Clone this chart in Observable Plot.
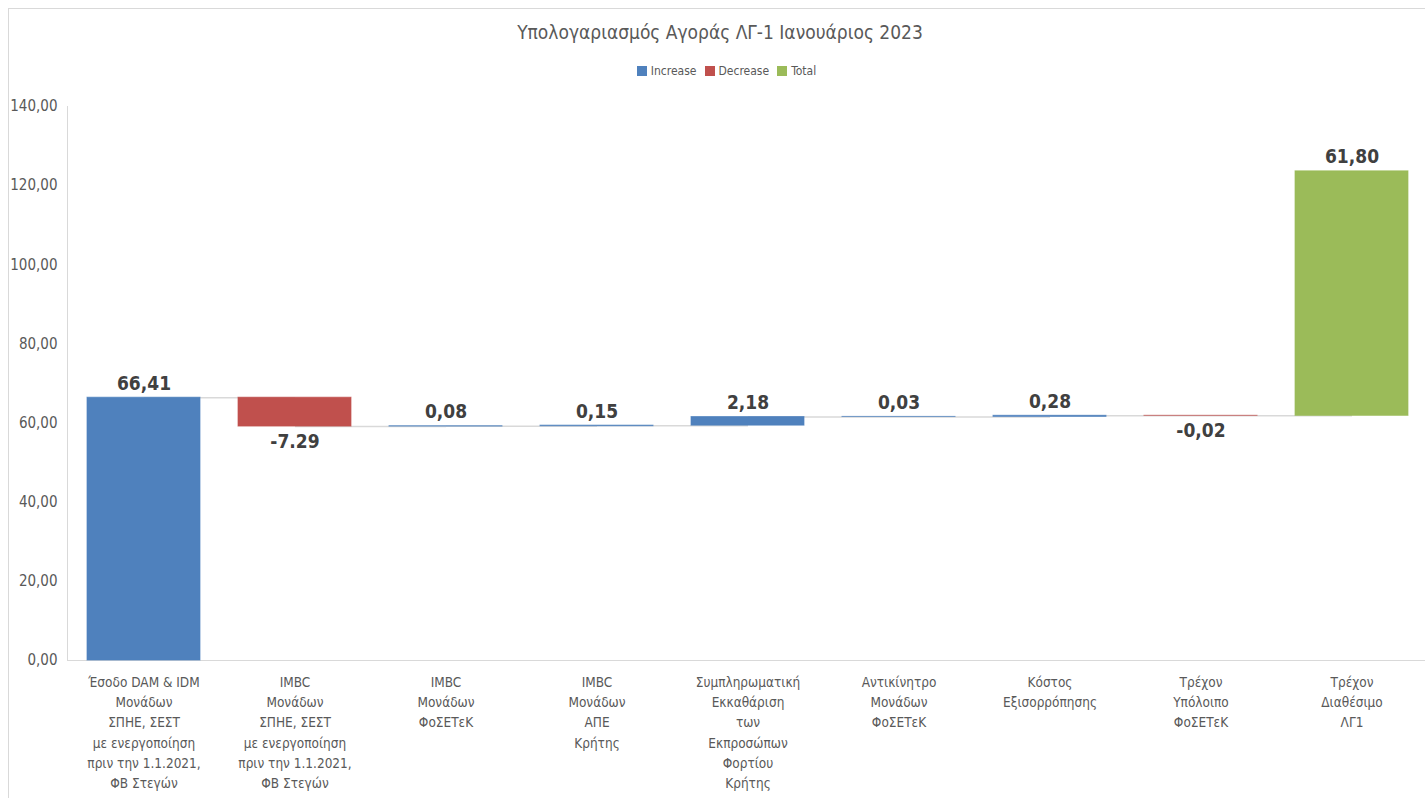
<!DOCTYPE html>
<html><head><meta charset="utf-8">
<script src="https://cdn.jsdelivr.net/npm/d3@7"></script>
<script src="https://cdn.jsdelivr.net/npm/@observablehq/plot@0.6"></script>
<style>
body{margin:0;background:#fff;font-family:"Liberation Sans Narrow","DejaVu Sans Condensed",sans-serif;}
#wrap{position:relative;width:1425px;height:798px;overflow:hidden;background:#fff}
#border{position:absolute;left:8px;top:8px;width:1440px;height:820px;border:1px solid #d9d9d9}
#title{position:absolute;top:21px;left:0;width:1440px;text-align:center;font-size:19px;color:#595959}
#legend{position:absolute;top:64px;left:0;width:1445px;text-align:center;font-size:12px;color:#595959}
#legend span.sw{display:inline-block;width:10px;height:10px;margin:0 4px 0 8px;vertical-align:-1px}
#chart{position:absolute;top:90px;left:0}
</style></head><body>
<div id="wrap">
<div id="border"></div>
<div id="title">Υπολογαριασμός Αγοράς ΛΓ-1 Ιανουάριος 2023</div>
<div id="legend"></div>
<div id="chart"></div>
</div>
<script>
const categories = [
  "Έσοδο DAM & IDM\nΜονάδων\nΣΠΗΕ, ΣΕΣΤ\nμε ενεργοποίηση\nπριν την 1.1.2021,\nΦΒ Στεγών",
  "IMBC\nΜονάδων\nΣΠΗΕ, ΣΕΣΤ\nμε ενεργοποίηση\nπριν την 1.1.2021,\nΦΒ Στεγών",
  "IMBC\nΜονάδων\nΦοΣΕΤεΚ",
  "IMBC\nΜονάδων\nΑΠΕ\nΚρήτης",
  "Συμπληρωματική\nΕκκαθάριση\nτων\nΕκπροσώπων\nΦορτίου\nΚρήτης",
  "Αντικίνητρο\nΜονάδων\nΦοΣΕΤεΚ",
  "Κόστος\nΕξισορρόπησης",
  "Τρέχον\nΥπόλοιπο\nΦοΣΕΤεΚ",
  "Τρέχον\nΔιαθέσιμο\nΛΓ1"
];
const values = [66.41, -7.29, 0.08, 0.15, 2.18, 0.03, 0.28, -0.02, 61.80];
const kinds = ["Increase","Decrease","Increase","Increase","Increase","Increase","Increase","Decrease","Total"];
const valueLabels = ["66,41","-7.29","0,08","0,15","2,18","0,03","0,28","-0,02","61,80"];
const legendNames = ["Increase","Decrease","Total"];
const legendColors = ["#4f81bd","#c0504d","#9bbb59"];
const yTicks = [0,20,40,60,80,100,120,140];

document.getElementById("legend").innerHTML = legendNames.map((n,i)=>
  `<span class="sw" style="background:${legendColors[i]}"></span>${n}`).join("");

let run = 0;
const rows = categories.map((c,i)=>{
  const start = run, end = run + values[i];
  run = end;
  return {cat:c, start, end, kind:kinds[i], label:valueLabels[i], neg: values[i] < 0};
});
const links = rows.slice(0,-1).map((r,i)=>({x1:r.cat, x2:rows[i+1].cat, y:r.end}));

const chart = Plot.plot({
  width: 1425,
  height: 708,
  marginTop: 16,
  marginBottom: 138,
  marginLeft: 67,
  marginRight: 0,
  style: {fontFamily: '"Liberation Sans Narrow","DejaVu Sans Condensed",sans-serif', background: "transparent", overflow: "visible"},
  x: {domain: categories, paddingInner: 0.25, paddingOuter: 0.125, range: [67, 1429], label: null},
  y: {domain: [0,140], label: null},
  color: {domain: legendNames, range: legendColors},
  marks: [
    Plot.frame({anchor: "left", stroke: "#d9d9d9"}),
    Plot.ruleY([0], {stroke: "#d9d9d9"}),
    Plot.link(links, {x1:"x1", x2:"x2", y1:"y", y2:"y", stroke:"#d9d9d9", strokeWidth:1.5}),
    Plot.barY(rows, {x:"cat", y1:"start", y2:"end", fill:"kind", stroke:"kind", strokeWidth:1, strokeOpacity:0.7}),
    Plot.text(rows.filter(d=>!d.neg), {x:"cat", y:d=>Math.max(d.start,d.end), text:"label", lineAnchor:"bottom", dy:-8, fontSize:19, fontWeight:"bold", fill:"#404040"}),
    Plot.text(rows.filter(d=>d.neg), {x:"cat", y:d=>Math.min(d.start,d.end), text:"label", lineAnchor:"top", dy:8, fontSize:19, fontWeight:"bold", fill:"#404040"}),
    Plot.axisY({ticks: yTicks, tickSize: 0, tickPadding: 10, tickFormat: d=>d.toFixed(2).replace(".",","), fontSize: 15, fill:"#595959", label:null}),
    Plot.axisX({tickSize: 0, tickPadding: 12, lineAnchor: "top", lineHeight: 1.5, fontSize: 13.5, fill: "#595959", label: null})
  ]
});
document.getElementById("chart").appendChild(chart);
</script>
</body></html>
